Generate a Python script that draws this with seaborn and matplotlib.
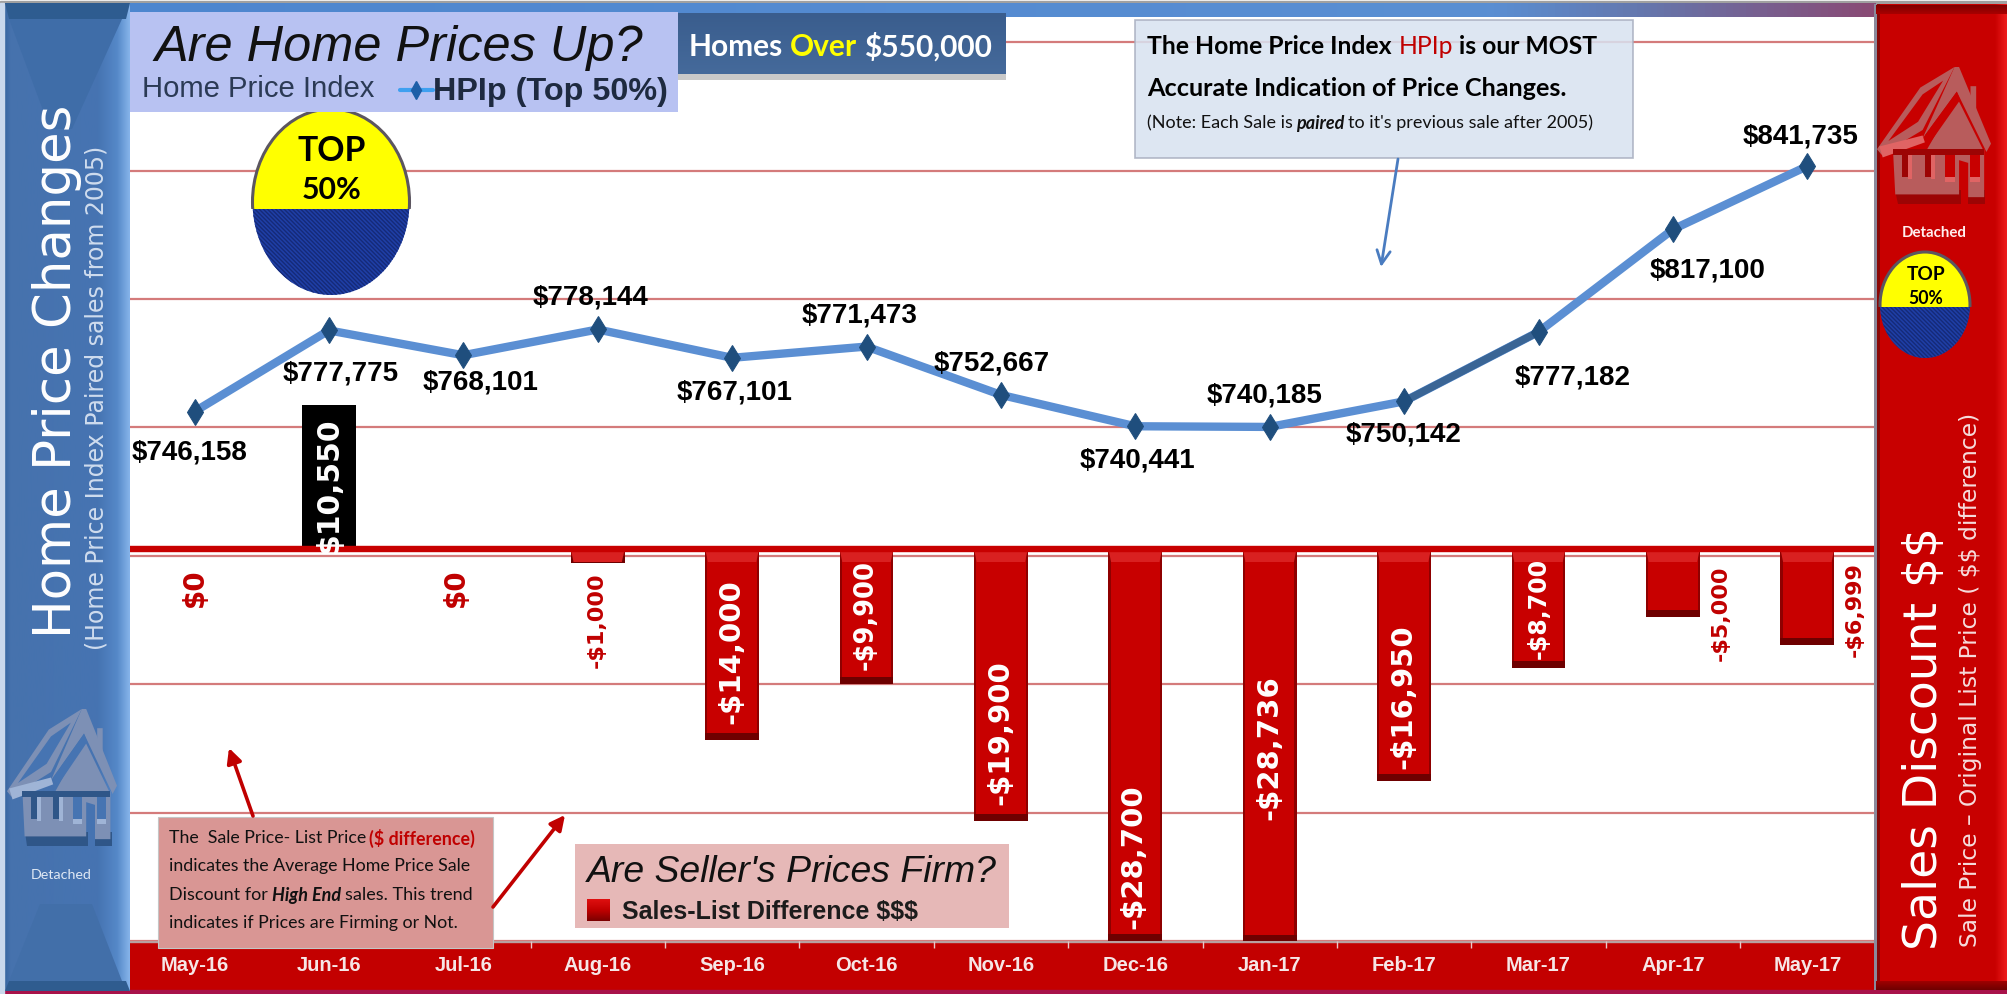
import numpy as np
import pandas as pd
import matplotlib
matplotlib.use("Agg")
import matplotlib.pyplot as plt
import seaborn as sns
from matplotlib.patches import Rectangle, Ellipse, Polygon
from matplotlib.colors import LinearSegmentedColormap
import logging
logging.getLogger("matplotlib.font_manager").setLevel(logging.ERROR)

# ---------- data ----------
months = ["May-16", "Jun-16", "Jul-16", "Aug-16", "Sep-16", "Oct-16", "Nov-16",
          "Dec-16", "Jan-17", "Feb-17", "Mar-17", "Apr-17", "May-17"]
hpip = [746158, 777775, 768101, 778144, 767101, 771473, 752667,
        740441, 740185, 750142, 777182, 817100, 841735]
discount = [0, 10550, 0, -1000, -14000, -9900, -19900,
            -28700, -28736, -16950, -8700, -5000, -6999]

# ---------- label placement (pixels relative to the mark) ----------
price_dx = [-4.5, 12, 17, -7, 2, -6.5, -9, 2, -5, -1, 34.5, 35, -7]
price_dy = [-40, -42, -26, 33, -33.5, 32, 32, -33, 32, -32.5, -44.5, -40, 30.5]
disc_dx = [0, 0, -7, -1, -1, -1, -1, -2, 0, -1, 0, 48, 47]
disc_dy = [-38, 65, -38, -70, -102, -65, -183, -307, -198, -147, -58, -63, -60]
disc_size = [20, 21.5, 20, 16, 21, 18.5, 21, 21, 21, 21, 17, 16, 16]
disc_color = ["#c00000", "white", "#c00000", "#c00000", "white", "white", "white",
              "white", "white", "white", "white", "#c00000", "#c00000"]

W, H = 2007, 995
sns.set_theme(style="white")
ARIAL = ["Liberation Sans", "DejaVu Sans"]
CALIBRI = ["Lato", "Liberation Sans", "DejaVu Sans"]
plt.rcParams["font.family"] = ["DejaVu Sans"]
plt.rcParams["text.parse_math"] = False
plt.rcParams["hatch.linewidth"] = 1.0
fig = plt.figure(figsize=(W / 100, H / 100), dpi=100, facecolor="white")


def pix_axes(z):
    a = fig.add_axes([0, 0, 1, 1], zorder=z, facecolor="none")
    a.set_xlim(0, W)
    a.set_ylim(H, 0)
    a.axis("off")
    return a


bg = pix_axes(0)
ov = pix_axes(5)


def grad(a, x0, x1, y0, y1, cols, horizontal=True, z=1):
    cm = LinearSegmentedColormap.from_list("g", cols)
    v = np.linspace(0, 1, 256)
    arr = v[None, :] if horizontal else v[:, None]
    a.imshow(arr, extent=(x0, x1, y1, y0), aspect="auto", cmap=cm, zorder=z, vmin=0, vmax=1)
    a.set_xlim(0, W)
    a.set_ylim(H, 0)


# ---------- frame bands behind the plot ----------
bg.add_patch(Rectangle((0, 2), W, 2, color="#a0a0a0", zorder=1))
grad(bg, 128, 1876, 4, 18, [(0, "#4d86cf"), (.78, "#5a8fd3"), (.87, "#6576ac"), (1, "#8a4a74")], z=1)
bg.add_patch(Rectangle((128, 942), 1750, 48, color="#c30000", zorder=1))
bg.add_patch(Rectangle((128, 941), 1750, 2, color="#b9a0a0", zorder=2))
bg.add_patch(Rectangle((0, 991), W, 4, color="#a8124a", zorder=2))

# ---------- plot axes (pixel span 127.3..1874.5 x 18..942) ----------
ax_l, ax_r, ax_t, ax_b = 127.3, 1874.5, 18, 942
ax1 = fig.add_axes([ax_l / W, (H - ax_b) / H, (ax_r - ax_l) / W, (ax_b - ax_t) / H],
                   zorder=1, facecolor="white")
df = pd.DataFrame({"pos": np.arange(len(months)), "month": months,
                   "hpip": hpip, "discount": discount})

for y in range(540000, 900000, 50000):
    ax1.axhline(y, color="#d47b7b", lw=1.6, zorder=0)

sns.lineplot(data=df, x="pos", y="hpip", ax=ax1, color="#5b8fd3", lw=6,
             solid_joinstyle="miter", errorbar=None, zorder=3)
sns.lineplot(data=df.iloc[9:11], x="pos", y="hpip", ax=ax1, color="#3a6595", lw=5.4,
             errorbar=None, zorder=3.5)
sns.lineplot(data=df, x="pos", y="hpip", ax=ax1, color="#1f4e7d", lw=0, marker="d",
             markersize=13, markeredgecolor="#1f4e7d", errorbar=None, zorder=4)

ax1.set_xlim(-0.5, 12.5)
ax1.set_ylim(540000, 899813)
ax1.set_xlabel("")
ax1.set_ylabel("")
ax1.set_yticks([])
ax1.set_xticks(df["pos"])
ax1.set_xticklabels(months, family=ARIAL, weight="bold", size=14.5, color="#f6e6e6")
ax1.set_xticks(np.arange(-0.5, 13, 1), minor=True)
ax1.tick_params(axis="x", which="major", length=0, pad=10)
ax1.tick_params(axis="x", which="minor", length=5, width=1, color="#e8c8c8", direction="out", bottom=True)
for s in ax1.spines.values():
    s.set_visible(False)

for i, (v, dx, dy) in enumerate(zip(hpip, price_dx, price_dy)):
    ax1.annotate(f"${v:,}", xy=(i, v), xytext=(dx, dy), textcoords="offset pixels",
                 ha="center", va="center", family=ARIAL, weight="bold", size=20,
                 color="black", zorder=6)

ax2 = ax1.twinx()
ax2.set_zorder(2)
ax2.patch.set_visible(False)
sns.barplot(data=df, x="pos", y="discount", ax=ax2, native_scale=True, width=0.4,
            color="#c80000", saturation=1, errorbar=None, zorder=2)
ax2.set_xlim(-0.5, 12.5)
ax2.set_ylim(-28697, 38946)
ax2.set_xlabel("")
ax2.set_ylabel("")
ax2.set_yticks([])
ax2.tick_params(axis="x", which="both", length=0, labelbottom=False)
for s in ax2.spines.values():
    s.set_visible(False)

px = 1 / 0.01366  # value span of one pixel on the discount axis
for p, v in zip(list(ax2.patches), discount):
    p.set_linewidth(0)
    if v > 0:
        p.set_facecolor("black")
    elif v < 0:
        x, w, h = p.get_x(), p.get_width(), p.get_height()
        ax2.add_patch(Rectangle((x, h), w, 7 * px, color="#6e0000", lw=0, zorder=2.2))
        ax2.add_patch(Polygon([(x, 0), (x + w, 0), (x + w * .95, -13 * px), (x + w * .05, -13 * px)],
                              color="#d92020", lw=0, zorder=2.2))
        ax2.add_patch(Rectangle((x, h), w * .04, -h, color="#8e0000", lw=0, zorder=2.1))
        ax2.add_patch(Rectangle((x + w * .96, h), w * .04, -h, color="#8e0000", lw=0, zorder=2.1))

ax2.axhline(0, color="#c80000", lw=4.6, zorder=3)

for i, v in enumerate(discount):
    lab = f"${v:,}" if v >= 0 else f"-${-v:,}"
    ax2.annotate(lab, xy=(i, 0), xytext=(disc_dx[i], disc_dy[i]), textcoords="offset pixels",
                 rotation=90, ha="center", va="center", weight="bold", size=disc_size[i],
                 color=disc_color[i], zorder=4, annotation_clip=False)

# ---------- side panels ----------
grad(ov, 4, 130, 4, 992, [(0, "#36659f"), (.05, "#4672ad"), (.75, "#4674b2"), (.9, "#5588c8"), (1, "#86b4ea")], z=1)
ov.add_patch(Rectangle((0, 4), 4, 991, color="#c9d8ec", zorder=1))
ov.add_patch(Polygon([(5, 4), (130, 4), (126, 20), (9, 20)], color="#2e5c90", zorder=2, lw=0))
ov.add_patch(Polygon([(9, 20), (122, 20), (72, 130), (50, 130)], color="#3f6da8", zorder=2, lw=0))
ov.add_patch(Polygon([(5, 992), (130, 992), (126, 982), (9, 982)], color="#2f5c8f", zorder=2, lw=0))
ov.add_patch(Polygon([(9, 982), (122, 982), (92, 905), (40, 905)], color="#426fa9", zorder=1.5, lw=0))

ov.add_patch(Rectangle((1875, 5), 132, 986, color="#c80000", zorder=1, lw=0))
ov.add_patch(Rectangle((1874, 5), 2.5, 986, color="#8a8a9c", zorder=2, lw=0))
ov.add_patch(Rectangle((1876.5, 5), 3.5, 986, color="#8a0606", zorder=2, lw=0))
grad(ov, 1995, W, 5, 991, ["#c80000", "#ee1c1c"], z=1.5)
grad(ov, 1876, W, 6, 15, ["#7e0000", "#a80000"], horizontal=False, z=2)
grad(ov, 1876, W, 982, 991, ["#a00000", "#6e0000"], horizontal=False, z=2)


def house(x0, y0, w, h, wall, dark, win, fringe, base):
    def P(pts, c, z=3):
        ov.add_patch(Polygon([(x0 + a * w, y0 + b * h) for a, b in pts], color=c, lw=0, zorder=z))
    # shadow strips under the walls
    P([(.16, .90), (.74, .90), (.74, 1.0), (.18, 1.0)], dark, 2.9)
    P([(.80, .90), (.95, .90), (.95, 1.0), (.80, 1.0)], dark, 2.9)
    # walls and door gap
    P([(.14, .60), (.94, .60), (.94, .95), (.80, .95), (.80, .70), (.72, .68), (.72, .93), (.16, .93)], wall)
    # left roof plane with its open panel
    P([(0, .60), (.38, .15), (.68, 0), (.40, .46), (.04, .64)], wall, 3.1)
    P([(.10, .54), (.40, .20), (.58, .10), (.36, .40)], base, 3.2)
    # gable and right roof band
    P([(.40, .52), (.68, 0), (.72, 0), (1, .56), (.96, .62), (.70, .18)], wall, 3.1)
    P([(.42, .50), (.70, .18), (.73, .24), (.46, .56)], base, 3.3)
    P([(.44, .60), (.70, .22), (.94, .62)], wall, 3.2)
    P([(.82, .14), (.87, .14), (.87, .34), (.82, .24)], wall, 3.3)
    # eave shadow and windows
    P([(.02, .58), (.40, .50), (.42, .55), (.05, .66)], fringe, 3.4)
    P([(.14, .60), (.94, .60), (.94, .64), (.14, .64)], dark, 3.4)
    for a, b in [(.22, .34), (.42, .50)]:
        P([(a, .62), (a + .05, .62), (a + .05, .80), (a, .80)], dark, 3.5)
        P([(a + .05, .64), (a + .09, .64), (a + .09, .82), (a + .05, .82)], fringe, 3.5)
    for a in (.60, .82):
        P([(a, .64), (a + .08, .64), (a + .08, .80), (a, .80)], base, 3.5)
        P([(a, .80), (a + .08, .80), (a + .08, .84), (a, .84)], fringe, 3.5)


house(7, 710, 110, 137, "#7d90b5", "#2f5688", "#4674b2", "#9fb4d6", "#4674b2")
house(1877, 68, 114, 137, "#b85c5c", "#9c0404", "#c80000", "#e06464", "#c80000")


def fit(x, y, s, target, ha="left", color="black", z=7, **kw):
    t = ov.text(x, y, s, ha=ha, va="center", color=color, zorder=z, size=10, **kw)
    t.set_size(10 * target / t.get_window_extent(rend).width)
    return t


def line(x, y, parts, gap_em, target, **kw):
    """Place differently styled runs side by side, sized so the whole line spans target pixels."""
    probes = [ov.text(0, 0, s, size=10, **{**kw, **extra}) for s, extra in parts]
    widths = [p.get_window_extent(rend).width for p in probes]
    for p in probes:
        p.remove()
    gap10 = gap_em * 10 * 100 / 72
    scale = target / (sum(widths) + gap10 * (len(parts) - 1))
    for (s, extra), wd in zip(parts, widths):
        ov.text(x, y, s, ha="left", va="center", zorder=7, size=10 * scale, **{**kw, **extra})
        x += (wd + gap10) * scale


rend = fig.canvas.get_renderer()


def ball(cx, top, div, bot, w, w1, w2, ty1, ty2):
    yb = Rectangle((cx - w, top - 5), 2 * w, div - top + 5, transform=ov.transData)
    bb = Rectangle((cx - w, div), 2 * w, bot - div + 5, transform=ov.transData)
    e1 = Ellipse((cx, (top + bot) / 2), w, bot - top, fc="#ffff00", ec="#5c5660", lw=2.2, zorder=4)
    e2 = Ellipse((cx, (top + bot) / 2), w, bot - top, fc="#1f3fa6", ec="#152a78",
                 hatch="\\\\\\\\\\\\\\\\", lw=0, zorder=4.1)
    ov.add_patch(e1)
    ov.add_patch(e2)
    e1.set_clip_path(yb)
    e2.set_clip_path(bb)
    fit(cx + 1, ty1, "TOP", w1, ha="center", family=CALIBRI, weight="bold", z=6)
    fit(cx + 1, ty2, "50%", w2, ha="center", family=CALIBRI, weight="bold", z=6)


ball(331, 110, 210, 296, 157, 68, 60, 151, 190)
ball(1925, 253, 308, 359, 90, 38.5, 35, 275, 298)

ov.text(57, 371, "Home Price Changes", rotation=90, ha="center", va="center", color="white", size=37, zorder=6)
ov.text(97, 398, "(Home Price Index Paired sales from 2005)", rotation=90, ha="center", va="center",
        color="#cfdcee", size=17, zorder=6)
fit(61, 875, "Detached", 61, ha="center", color="#dfe8f4", family=CALIBRI, z=6)
fit(1934, 233, "Detached", 65, ha="center", color="#ffeeee", family=CALIBRI, weight="bold", z=6)
ov.text(1925, 738, "Sales Discount $$", rotation=90, ha="center", va="center", color="white", size=34, zorder=6)
ov.text(1970, 680, "Sale Price \u2013 Original List Price ( $$ difference)", rotation=90, ha="center", va="center",
        color="#f6dcdc", size=16.8, zorder=6)

# ---------- boxes ----------
ov.add_patch(Rectangle((130, 13), 548, 100, color="#b8c2f2", zorder=4, lw=0))
fit(154, 48, "Are Home Prices Up?", 489, style="italic", family=ARIAL, color="#111111")
fit(142, 89, "Home Price Index", 234, family=ARIAL, color="#2b3a55")
ov.plot([400, 433], [91, 91], color="#3fa0f0", lw=3, zorder=6)
ov.plot([416], [91], marker="d", ms=9, color="#1d5fa8", zorder=7)
fit(433, 92, "HPIp (Top 50%)", 234, family=ARIAL, weight="bold", color="#1e2a40")

ov.add_patch(Rectangle((678, 75), 328, 6, color="#c9c9c9", zorder=3.9, lw=0))
grad(ov, 678, 1006, 14, 75, ["#3a5d8d", "#456a9b"], horizontal=False, z=4)
line(689, 46.5, [("Homes", {}), ("Over", {"color": "#ffff00"}), ("$550,000", {})], .22, 304,
     family=CALIBRI, weight="bold", color="white")

ov.add_patch(Rectangle((1135, 21), 498, 138, fc="#d8e2f0", ec="#a8aebf", lw=1.2, alpha=.86, zorder=4))
line(1147, 47, [("The Home Price Index", {}), ("HPIp", {"color": "#c00000", "weight": "normal"}),
                ("is our MOST", {})], .25, 451, family=CALIBRI, weight="bold", color="black")
fit(1147, 88, "Accurate Indication of Price Changes.", 421, family=CALIBRI, weight="bold")
line(1147, 123, [("(Note: Each Sale is", {}), ("paired", {"weight": "bold", "style": "italic"}),
                 ("to it's previous sale after 2005)", {})], .22, 446, family=CALIBRI, color="#111111")
ov.annotate("", xy=(1381, 268), xytext=(1398, 160),
            arrowprops=dict(arrowstyle="->", color="#4a7cc0", lw=2, mutation_scale=24, shrinkA=0, shrinkB=0), zorder=6)

ov.add_patch(Rectangle((158, 818), 335, 131, fc="#d99694", ec="#c5c5c5", lw=.8, zorder=4))
line(169, 838, [("The  Sale Price- List Price", {}), ("($ difference)", {"color": "#c00000", "weight": "bold"})],
     .22, 306, family=CALIBRI, color="#111111")
fit(169, 866, "indicates the Average Home Price Sale", 300, family=CALIBRI, color="#111111")
line(169, 895, [("Discount for", {}), ("High End", {"weight": "bold", "style": "italic"}),
                ("sales. This trend", {})], .22, 303, family=CALIBRI, color="#111111")
fit(169, 923, "indicates if Prices are Firming or Not.", 289, family=CALIBRI, color="#111111")
for a, b in [((229, 749), (253, 817)), ((565, 816), (493, 908))]:
    ov.annotate("", xy=a, xytext=b, arrowprops=dict(arrowstyle="-|>", color="#c00000", lw=2.6,
                                                    mutation_scale=22, shrinkA=0, shrinkB=0), zorder=6)

ov.add_patch(Rectangle((575, 845), 434, 84, color="#e6b8b7", zorder=4, lw=0))
fit(587, 872, "Are Seller's Prices Firm?", 411, style="italic", family=ARIAL, color="#111111")
grad(ov, 587, 610, 900, 922, ["#e01010", "#c00000", "#7a0000"], horizontal=False, z=6)
fit(622, 912, "Sales-List Difference $$$", 296, family=ARIAL, weight="bold", color="#1c1c1c")

fig.savefig("out.png", dpi=100)
